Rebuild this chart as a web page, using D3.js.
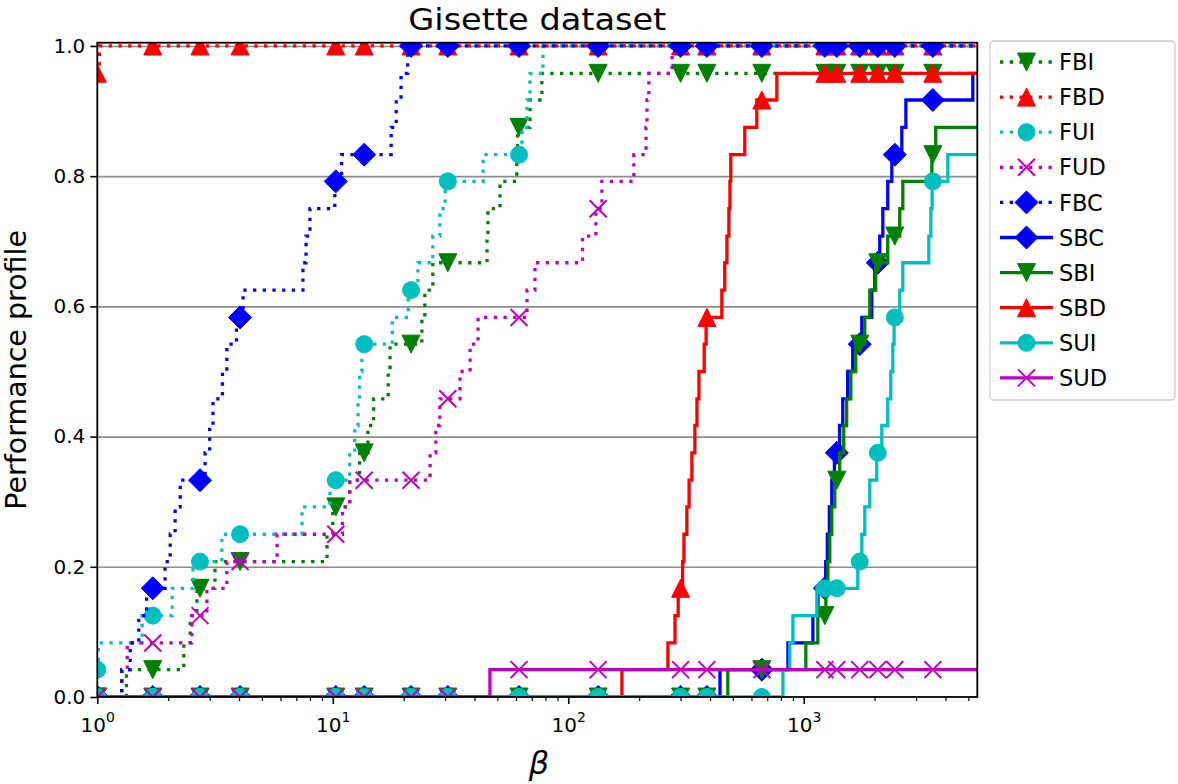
<!DOCTYPE html>
<html><head><meta charset="utf-8">
<script src="https://cdn.jsdelivr.net/npm/d3@7"></script>
<style>
html,body{margin:0;padding:0;background:#fff;}
svg{display:block;font-family:"DejaVu Sans",sans-serif;}
</style></head><body>
<svg id="chart" width="1178" height="784"></svg>
<script>
// ---------- data ----------
const seriesNames = ["FBI","FBD","FUI","FUD","FBC","SBC","SBI","SBD","SUI","SUD"];
const markerTaus = [1, 1.72, 2.73, 4.04, 10.3, 13.6, 21.5, 30.8, 61.8, 134, 300, 388, 664, 1230, 1382, 1730, 2063, 2437, 3535];
const yTicks = [0, 0.2, 0.4, 0.6, 0.8, 1.0];
const yGrid = [0.2, 0.4, 0.6, 0.8, 1.0];
const xMajorTicks = [1, 10, 100, 1000];
const xMajorExp = ["0", "1", "2", "3"];
const xMinorTicks = [2,3,4,5,6,7,8,9,20,30,40,50,60,70,80,90,200,300,400,500,600,700,800,900,2000,3000,4000,5000];
const xMax = 5460;

// step functions: value holds from tau until next tau
const fbiTau = [1, 1.33, 2.33, 2.48, 2.65, 3.16, 9.45, 10.0, 11.8, 13.0, 14.1, 14.9, 17.2, 17.5, 23.9, 24.6, 26.6, 45.2, 45.6, 51.3, 60.5, 60.9, 68.8, 77.3];
const fbiVal = [0, 0.042, 0.083, 0.125, 0.167, 0.208, 0.25, 0.292, 0.333, 0.375, 0.417, 0.458, 0.5, 0.542, 0.583, 0.625, 0.667, 0.708, 0.75, 0.792, 0.833, 0.875, 0.917, 0.958];

const fbdTau = [1, 1.02];
const fbdVal = [0.958, 1.0];

const fuiTau = [1, 1.01, 1.55, 2.08, 2.55, 3.38, 7.4, 9.73, 11.8, 12.4, 12.8, 13.0, 13.3, 17.9, 20.9, 23.0, 26.6, 28.5, 30.0, 43.5, 63.6, 66.8, 68.8, 78.1];
const fuiVal = [0.042, 0.083, 0.125, 0.167, 0.208, 0.25, 0.292, 0.333, 0.375, 0.417, 0.458, 0.5, 0.542, 0.583, 0.625, 0.667, 0.708, 0.75, 0.792, 0.833, 0.875, 0.917, 0.958, 1.0];

const fudTau = [1, 1.27, 1.34, 2.52, 2.92, 3.55, 5.8, 11.0, 11.8, 25.9, 27.4, 28.5, 34.7, 38.3, 41.4, 66.8, 72.2, 115, 131, 139, 190, 214, 216, 220, 276];
const fudVal = [0, 0.042, 0.083, 0.125, 0.167, 0.208, 0.25, 0.292, 0.333, 0.375, 0.417, 0.458, 0.5, 0.542, 0.583, 0.625, 0.667, 0.708, 0.75, 0.792, 0.833, 0.875, 0.917, 0.958, 1.0];

const fbcTau = [1, 1.27, 1.38, 1.5, 1.62, 1.94, 2.04, 2.14, 2.25, 2.87, 3.0, 3.1, 3.4, 3.55, 3.9, 4.16, 7.47, 7.7, 8.0, 10.2, 10.9, 17.7, 18.6, 19.5, 20.8];
const fbcVal = [0, 0.042, 0.083, 0.125, 0.167, 0.208, 0.25, 0.292, 0.333, 0.375, 0.417, 0.458, 0.5, 0.542, 0.583, 0.625, 0.667, 0.708, 0.75, 0.792, 0.833, 0.875, 0.917, 0.958, 1.0];

const sbcTau = [1, 441, 857, 1094, 1150, 1240, 1260, 1285, 1316, 1350, 1420, 1465, 1537, 1615, 1765, 1946, 2003, 2104, 2168, 2274, 2367, 2610, 2716, 5225];
const sbcVal = [0, 0.042, 0.083, 0.125, 0.167, 0.208, 0.25, 0.292, 0.333, 0.375, 0.417, 0.458, 0.5, 0.542, 0.583, 0.625, 0.667, 0.708, 0.75, 0.792, 0.833, 0.875, 0.917, 0.958];

const sbiTau = [1, 476, 1021, 1148, 1242, 1266, 1290, 1316, 1355, 1422, 1479, 1522, 1585, 1663, 1817, 1908, 2022, 2274, 2558, 2636, 3501, 3637];
const sbiVal = [0, 0.042, 0.083, 0.125, 0.167, 0.208, 0.25, 0.292, 0.333, 0.375, 0.417, 0.458, 0.5, 0.542, 0.583, 0.625, 0.667, 0.708, 0.75, 0.792, 0.833, 0.875];

const sbdTau = [1, 169, 265, 284, 293, 306, 310, 319, 326, 335, 345, 352, 359, 378, 385, 449, 462, 472, 481, 486, 490, 562, 632, 769];
const sbdVal = [0, 0.042, 0.083, 0.125, 0.167, 0.208, 0.25, 0.292, 0.333, 0.375, 0.417, 0.458, 0.5, 0.542, 0.583, 0.625, 0.667, 0.708, 0.75, 0.792, 0.833, 0.875, 0.917, 0.958];

const suiTau = [1, 816, 873, 900, 1137, 1697, 1765, 1817, 1908, 2042, 2146, 2274, 2343, 2390, 2420, 2558, 2636, 3399, 3467, 3510, 4093];
const suiVal = [0, 0.042, 0.083, 0.125, 0.167, 0.208, 0.25, 0.292, 0.333, 0.375, 0.417, 0.458, 0.5, 0.542, 0.583, 0.625, 0.667, 0.708, 0.75, 0.792, 0.833];

const sudTau = [1, 46.5];
const sudVal = [0, 0.042];

// ---------- styles ----------
const C = {g:"#008000", r:"#ff0000", c:"#00bfbf", m:"#bf00bf", b:"#0000ff"};
const series = [
  {name:"FBI", tau:fbiTau, val:fbiVal, color:C.g, dotted:true,  marker:"v"},
  {name:"FBD", tau:fbdTau, val:fbdVal, color:C.r, dotted:true,  marker:"^"},
  {name:"FUI", tau:fuiTau, val:fuiVal, color:C.c, dotted:true,  marker:"o"},
  {name:"FUD", tau:fudTau, val:fudVal, color:C.m, dotted:true,  marker:"x"},
  {name:"FBC", tau:fbcTau, val:fbcVal, color:C.b, dotted:true,  marker:"D"},
  {name:"SBC", tau:sbcTau, val:sbcVal, color:C.b, dotted:false, marker:"D"},
  {name:"SBI", tau:sbiTau, val:sbiVal, color:C.g, dotted:false, marker:"v"},
  {name:"SBD", tau:sbdTau, val:sbdVal, color:C.r, dotted:false, marker:"^"},
  {name:"SUI", tau:suiTau, val:suiVal, color:C.c, dotted:false, marker:"o"},
  {name:"SUD", tau:sudTau, val:sudVal, color:C.m, dotted:false, marker:"x"}
];

const L = 97.3, R = 977.3, T = 42.7, B = 697;
const svg = d3.select("#chart");
const x = d3.scaleLog().domain([1, xMax]).range([L, R]);
const y = d3.scaleLinear().domain([0, 1.005]).range([B, T]);

svg.append("defs").append("clipPath").attr("id","clip")
  .append("rect").attr("x",L).attr("y",T).attr("width",R-L).attr("height",B-T);

// grid
svg.append("g").attr("transform",`translate(${L},0)`)
  .call(d3.axisLeft(y).tickValues(yGrid).tickSize(-(R-L)).tickFormat(""))
  .call(g=>g.select(".domain").remove())
  .call(g=>g.selectAll("line").attr("stroke","#8c8c8c").attr("stroke-width",1.6));

function markerShape(sel, type, color){
  if(type==="x"){
    sel.append("path").attr("d","M-8.5,-8.5L8.5,8.5M8.5,-8.5L-8.5,8.5")
      .attr("fill","none").attr("stroke",color).attr("stroke-width",2);
  } else {
    let d;
    if(type==="v") d="M-9,-9L9,-9L0,9Z";
    else if(type==="^") d="M0,-9L9,9L-9,9Z";
    else if(type==="D") d="M0,-11.5L11.5,0L0,11.5L-11.5,0Z";
    else d="M8.5,0A8.5,8.5 0 1,1 -8.5,0A8.5,8.5 0 1,1 8.5,0Z";
    sel.append("path").attr("d",d).attr("fill",color).attr("stroke",color).attr("stroke-width",1);
  }
}

function valueAt(s, t){
  let v = s.val[0];
  for(let i=0;i<s.tau.length;i++){ if(s.tau[i] <= t) v = s.val[i]; }
  return v;
}

const line = d3.line().x(d=>x(d[0])).y(d=>y(d[1])).curve(d3.curveStepAfter);
const plot = svg.append("g").attr("clip-path","url(#clip)");
series.forEach(s=>{
  const pts = s.tau.map((t,i)=>[t, s.val[i]]);
  pts.push([xMax, s.val[s.val.length-1]]);
  const g = plot.append("g");
  g.append("path").attr("d", line(pts)).attr("fill","none")
    .attr("stroke", s.color).attr("stroke-width", 3.3)
    .attr("stroke-dasharray", s.dotted ? "3.3,6.4" : null)
    .attr("stroke-linejoin","miter");
  markerTaus.forEach(t=>{
    const m = g.append("g").attr("transform",`translate(${x(t)},${y(valueAt(s,t))})`);
    markerShape(m, s.marker, s.color);
  });
});

// frame
svg.append("rect").attr("x",L).attr("y",T).attr("width",R-L).attr("height",B-T)
  .attr("fill","none").attr("stroke","#000").attr("stroke-width",1.8);

// y axis
const yAx = svg.append("g").attr("transform",`translate(${L},0)`)
  .call(d3.axisLeft(y).tickValues(yTicks).tickSize(7).tickPadding(5).tickFormat(d3.format(".1f")));
yAx.select(".domain").remove();
yAx.selectAll("line").attr("stroke","#000").attr("stroke-width",1.6);
yAx.selectAll("text").attr("font-size",20).attr("font-family","DejaVu Sans").attr("fill","#000");

// x axis major
const xAx = svg.append("g").attr("transform",`translate(0,${B})`)
  .call(d3.axisBottom(x).tickValues(xMajorTicks).tickSize(7).tickFormat(""));
xAx.select(".domain").remove();
xAx.selectAll("line").attr("stroke","#000").attr("stroke-width",1.6);
xAx.selectAll(".tick").each(function(d,i){
  const t = d3.select(this).append("text").attr("y",35).attr("text-anchor","middle")
    .attr("fill","#000").attr("font-size",20).attr("font-family","DejaVu Sans");
  t.append("tspan").text("10");
  t.append("tspan").attr("dy",-10).attr("font-size",14).text(xMajorExp[i]);
});
// x axis minor
const xMin = svg.append("g").attr("transform",`translate(0,${B})`)
  .call(d3.axisBottom(x).tickValues(xMinorTicks).tickSize(4).tickFormat(""));
xMin.select(".domain").remove();
xMin.selectAll("line").attr("stroke","#000").attr("stroke-width",1.2);

// title and labels
svg.append("text").attr("x",(L+R)/2).attr("y",30).attr("text-anchor","middle")
  .attr("font-size",31).attr("textLength",258).attr("lengthAdjust","spacingAndGlyphs")
  .attr("fill","#000").text("Gisette dataset");
svg.append("text").attr("transform",`translate(26,${(T+B)/2}) rotate(-90)`)
  .attr("text-anchor","middle").attr("font-size",28.5).attr("fill","#000").text("Performance profile");
svg.append("text").attr("x",539).attr("y",774).attr("text-anchor","middle")
  .attr("font-size",32).attr("font-style","italic").attr("fill","#000").text("β");

// legend
const lg = svg.append("g");
lg.append("rect").attr("x",990).attr("y",41).attr("width",185).attr("height",359).attr("rx",4)
  .attr("fill","#fff").attr("stroke","#cccccc").attr("stroke-width",1.3);
series.forEach((s,i)=>{
  const yy = 62 + i*35.1;
  const row = lg.append("g").attr("transform",`translate(0,${yy})`);
  row.append("line").attr("x1",1000).attr("x2",1053).attr("y1",0).attr("y2",0)
    .attr("stroke",s.color).attr("stroke-width",3.3)
    .attr("stroke-dasharray", s.dotted ? "3.3,6.4" : null);
  const m = row.append("g").attr("transform","translate(1026.5,0)");
  markerShape(m, s.marker, s.color);
  row.append("text").attr("x",1059).attr("y",0).attr("dy","0.36em")
    .attr("font-size",22.5).attr("fill","#000").text(s.name);
});
</script>
</body></html>
